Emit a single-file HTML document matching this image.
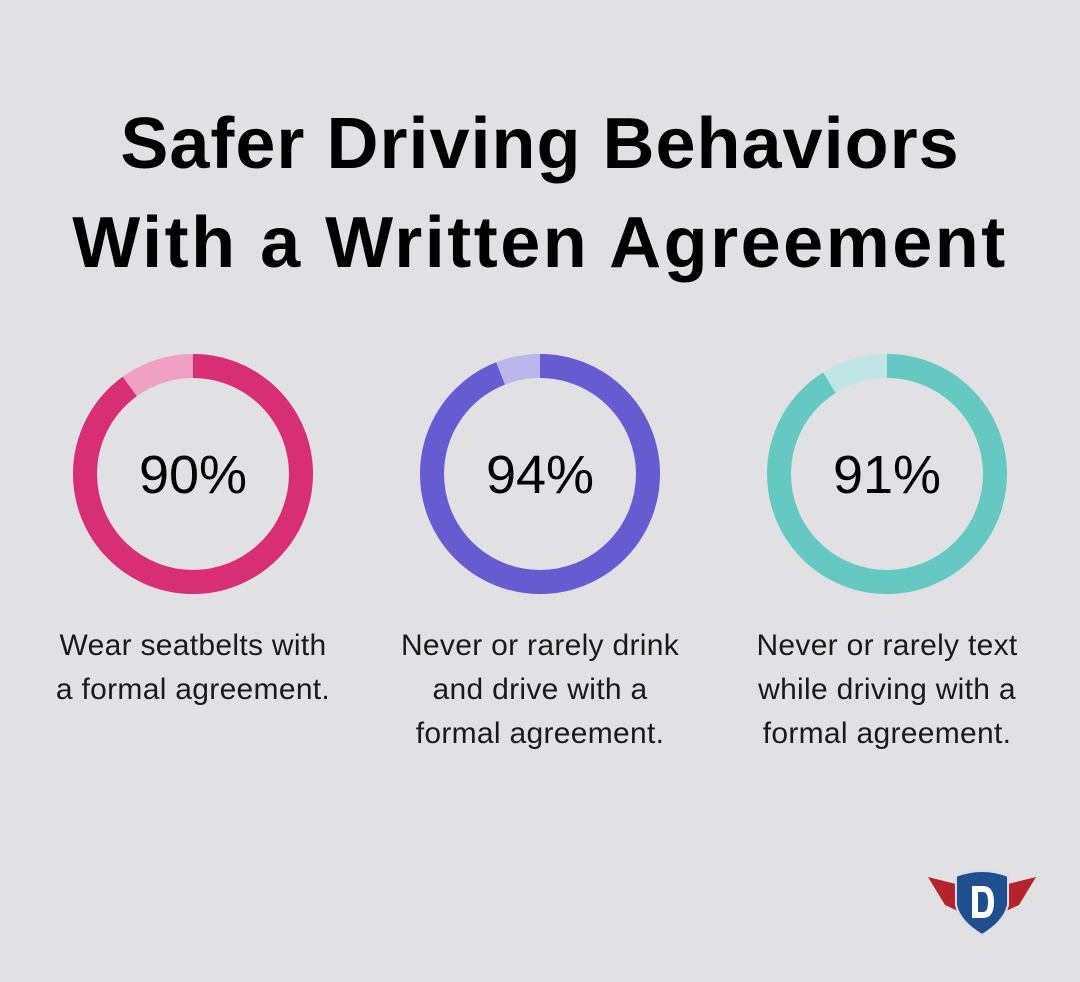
<!DOCTYPE html>
<html><head><style>
body{margin:0;width:1080px;height:982px;background:#e1e1e3;font-family:"Liberation Sans",sans-serif;overflow:hidden;position:relative}
h1{position:absolute;top:95px;left:0;width:1080px;margin:0;text-align:center;font-size:72px;line-height:99px;font-weight:bold;color:#000;letter-spacing:1px}
h1 span{letter-spacing:2.5px}
.lab{position:absolute;top:624px;width:360px;text-align:center;font-size:30px;line-height:44px;color:#1a1a1a;letter-spacing:0.3px}
</style></head><body>
<h1>Safer Driving Behaviors<br><span>With a Written Agreement</span></h1>
<svg width="1080" height="982" style="position:absolute;left:0;top:0">
<g font-family="Liberation Sans, sans-serif" font-size="54" text-anchor="middle">
<circle cx="193" cy="474" r="108" fill="none" stroke="#f0a0c2" stroke-width="24"/>
<circle cx="193" cy="474" r="108" fill="none" stroke="#d82e74" stroke-width="24" stroke-dasharray="610.7 678.6" transform="rotate(-90 193 474)"/>
<text x="193" y="493">90%</text>
<circle cx="540" cy="474" r="108" fill="none" stroke="#bbb6ec" stroke-width="24"/>
<circle cx="540" cy="474" r="108" fill="none" stroke="#665bd0" stroke-width="24" stroke-dasharray="637.9 678.6" transform="rotate(-90 540 474)"/>
<text x="540" y="493">94%</text>
<circle cx="887" cy="474" r="108" fill="none" stroke="#bfe6e5" stroke-width="24"/>
<circle cx="887" cy="474" r="108" fill="none" stroke="#65c9c1" stroke-width="24" stroke-dasharray="617.5 678.6" transform="rotate(-90 887 474)"/>
<text x="887" y="493">91%</text>
</g>
<g>
<polygon points="928,877 960,885 960,912 945,905" fill="#b5242e"/>
<polygon points="1036,877 1004,885 1004,912 1019,905" fill="#b5242e"/>
<path d="M956,876 Q982,866 1008,876 L1008,905 Q1004,922 982,935 Q960,922 956,905 Z" fill="#1f4f8f" stroke="#d8dde8" stroke-width="2"/>
<path d="M972,886 L983,886 Q994,886 994,902 Q994,918 983,918 L972,918 Z M978,892 L978,912 L983,912 Q988,912 988,902 Q988,892 983,892 Z" fill="#fff" fill-rule="evenodd"/>
</g>
</svg>
<div class="lab" style="left:13px">Wear seatbelts with<br>a formal agreement.</div>
<div class="lab" style="left:360px">Never or rarely drink<br>and drive with a<br>formal agreement.</div>
<div class="lab" style="left:707px">Never or rarely text<br>while driving with a<br>formal agreement.</div>
</body></html>
